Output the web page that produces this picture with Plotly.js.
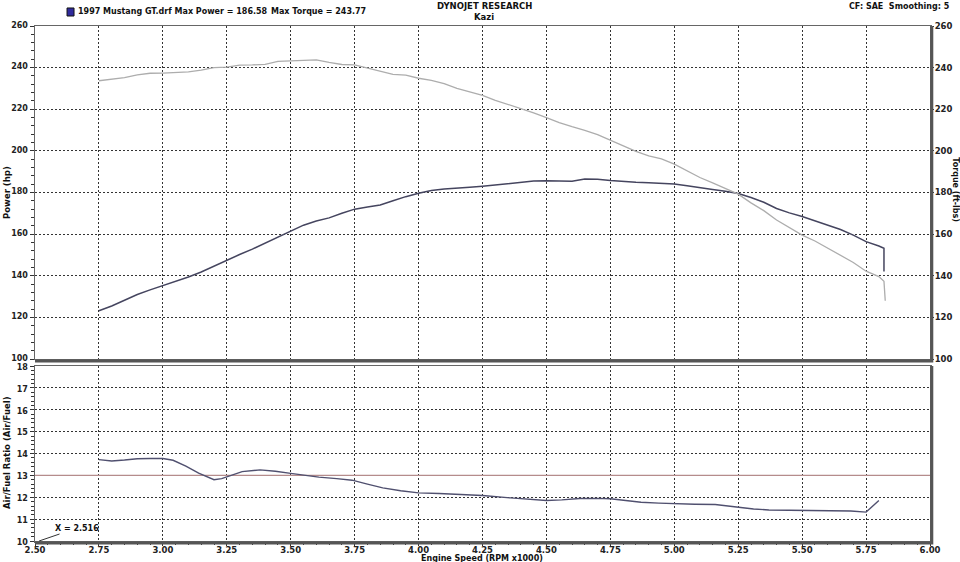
<!DOCTYPE html>
<html>
<head>
<meta charset="utf-8">
<script src="https://cdn.plot.ly/plotly-3.0.1.min.js"></script>
<style>
  html, body { margin: 0; padding: 0; background: #ffffff; }
  #chart { width: 960px; height: 562px; }
</style>
</head>
<body>
<div id="chart"></div>
<script>
// ---------------- DATA ----------------
const powerRpm = [2.75,2.80,2.85,2.90,2.95,3.00,3.05,3.10,3.15,3.20,3.25,3.30,3.35,3.40,3.45,3.50,3.55,3.60,3.65,3.70,3.75,3.80,3.85,3.90,3.95,4.00,4.05,4.10,4.15,4.20,4.25,4.30,4.35,4.40,4.45,4.50,4.55,4.60,4.65,4.70,4.75,4.80,4.85,4.90,4.95,5.00,5.05,5.10,5.15,5.20,5.25,5.30,5.35,5.40,5.45,5.50,5.55,5.60,5.65,5.70,5.75,5.80,5.82,5.82];
const powerHp = [123.2,125.5,128.2,131.0,133.2,135.2,137.3,139.4,141.8,144.7,147.6,150.2,152.8,155.7,158.8,161.6,164.3,166.3,167.8,170.0,172.0,173.0,174.0,176.0,178.0,179.6,181.0,181.7,182.0,182.5,183.0,183.6,184.1,184.8,185.5,185.6,185.5,185.4,186.5,186.4,185.8,185.3,184.9,184.7,184.5,184.1,183.2,182.2,181.4,180.6,179.5,177.6,175.3,172.3,170.2,168.5,166.4,164.4,162.2,159.5,156.4,154.3,153.2,142.0];

const torqueRpm = [2.75,2.80,2.85,2.90,2.95,3.00,3.05,3.10,3.15,3.20,3.25,3.30,3.35,3.40,3.45,3.50,3.55,3.60,3.65,3.70,3.75,3.80,3.85,3.90,3.95,4.00,4.05,4.10,4.15,4.20,4.25,4.30,4.35,4.40,4.45,4.50,4.55,4.60,4.65,4.70,4.75,4.80,4.85,4.90,4.95,5.00,5.05,5.10,5.15,5.20,5.25,5.30,5.35,5.40,5.45,5.50,5.55,5.60,5.65,5.70,5.75,5.80,5.82,5.825];
const torqueFtLbs = [233.7,234.3,235.2,236.5,237.3,237.4,237.6,238.0,238.8,240.0,240.2,241.2,241.3,241.6,243.0,243.3,243.6,243.77,242.5,241.5,241.3,239.8,238.0,236.8,236.4,234.9,233.9,232.3,230.0,228.3,226.7,224.3,222.3,220.4,218.3,216.0,213.6,211.6,209.9,207.8,205.2,202.5,199.8,197.6,196.2,193.6,190.4,187.2,184.6,181.9,179.2,175.0,171.3,166.8,163.0,159.5,156.7,153.4,150.0,146.4,142.2,139.6,137.3,128.0];

const afrRpm = [2.75,2.80,2.85,2.90,2.95,3.00,3.04,3.09,3.14,3.20,3.23,3.26,3.31,3.38,3.44,3.50,3.55,3.61,3.68,3.74,3.80,3.86,3.93,4.00,4.08,4.16,4.25,4.36,4.43,4.50,4.56,4.63,4.70,4.75,4.81,4.87,4.94,5.00,5.08,5.16,5.21,5.25,5.31,5.37,5.44,5.50,5.57,5.63,5.69,5.75,5.80];
const afrRatio = [13.72,13.66,13.70,13.76,13.77,13.77,13.69,13.42,13.10,12.80,12.85,12.97,13.17,13.25,13.19,13.09,13.00,12.92,12.85,12.78,12.60,12.43,12.30,12.20,12.17,12.14,12.08,11.97,11.90,11.85,11.88,11.94,11.95,11.93,11.85,11.77,11.73,11.70,11.68,11.67,11.60,11.52,11.46,11.42,11.41,11.41,11.42,11.40,11.37,11.32,11.85];

const afrTarget = 13.0;
const rpmRange = [2.5, 6.0];
const hpRange = [100, 260];
const afrRange = [10, 18];
const cursorX = 2.516;

const titleText = "1997 Mustang GT.drf Max Power = 186.58";
const torqueText = "Max Torque = 243.77";
const brandText = "DYNOJET RESEARCH";
const customerText = "Kazi";
const settingsText = "CF: SAE&nbsp;&nbsp;Smoothing: 5";

// ---------------- STYLE ----------------
const F = "DejaVu Sans, Verdana, sans-serif";
const tickFont = {family: F, size: 8.5, color: "#222", weight: "bold"};
const yTickFont = {family: F, size: 8, color: "#222", weight: "bold"};
const hdrFont = {family: F, size: 8, color: "#111", weight: "bold"};
const lblFont = {family: F, size: 8.5, color: "#111", weight: "bold"};
const gridStyle = {showgrid: true, gridcolor: "#333", griddash: "2px,2px", gridwidth: 1};
const frameLine = {showline: true, mirror: true, linecolor: "#666", linewidth: 1.5, zeroline: false};

const traces = [
  {x: torqueRpm, y: torqueFtLbs, xaxis: "x", yaxis: "y3", type: "scatter", mode: "lines",
   line: {color: "#adadad", width: 1.3}, hoverinfo: "skip"},
  {x: powerRpm, y: powerHp, xaxis: "x", yaxis: "y", type: "scatter", mode: "lines",
   line: {color: "#45455f", width: 1.5}, hoverinfo: "skip"},
  {x: rpmRange, y: [afrTarget, afrTarget], xaxis: "x2", yaxis: "y2", type: "scatter", mode: "lines",
   line: {color: "#b58c8c", width: 1.4}, hoverinfo: "skip"},
  {x: afrRpm, y: afrRatio, xaxis: "x2", yaxis: "y2", type: "scatter", mode: "lines",
   line: {color: "#50506f", width: 1.4}, hoverinfo: "skip"}
];

const topLo = 0.3534, botHi = 0.3398;

const layout = {
  width: 960, height: 562,
  paper_bgcolor: "#ffffff", plot_bgcolor: "#ffffff",
  showlegend: false,
  margin: {l: 35, r: 30, t: 26, b: 21, pad: 0},
  xaxis: Object.assign({domain: [0, 1], anchor: "y", range: rpmRange, dtick: 0.25, tick0: 2.5,
    showticklabels: false, ticks: ""}, gridStyle, frameLine),
  yaxis: Object.assign({domain: [topLo, 1], anchor: "x", range: hpRange, dtick: 20, tick0: 100,
    ticks: "outside", ticklen: 4, tickcolor: "#333", tickfont: yTickFont, ticklabelstandoff: 0,
    ticklabelshift: -1,
    minor: {dtick: 4, ticks: "outside", ticklen: 3, tickcolor: "#333", showgrid: false}}, gridStyle, frameLine),
  yaxis3: {overlaying: "y", side: "right", anchor: "x", range: hpRange, dtick: 20, tick0: 100,
    ticks: "outside", ticklen: 3, tickcolor: "#333", tickfont: tickFont, showgrid: false, zeroline: false,
    ticklabelstandoff: -1,
    minor: {dtick: 4, ticks: "outside", ticklen: 2, tickcolor: "#333", showgrid: false}},
  xaxis2: Object.assign({domain: [0, 1], anchor: "y2", range: rpmRange, dtick: 0.25, tick0: 2.5,
    tickformat: ".2f", ticks: "outside", ticklen: 3, tickcolor: "#333", tickfont: tickFont,
    ticklabelstandoff: -3,
    minor: {dtick: 0.05, ticks: "outside", ticklen: 2, tickcolor: "#333", showgrid: false}}, gridStyle, frameLine),
  yaxis2: Object.assign({domain: [0, botHi], anchor: "x2", range: afrRange, dtick: 1, tick0: 10,
    ticks: "outside", ticklen: 4, tickcolor: "#333", tickfont: yTickFont, ticklabelstandoff: 0,
    ticklabelshift: 1,
    minor: {dtick: 0.2, ticks: "outside", ticklen: 3, tickcolor: "#333", showgrid: false}}, gridStyle, frameLine),
  shapes: [
    {type: "path", xref: "paper", yref: "paper",
     path: "M 1.002,1 L 1.002," + (topLo - 0.004) + " L 0," + (topLo - 0.004),
     line: {color: "#555", width: 3}},
    {type: "path", xref: "paper", yref: "paper",
     path: "M 1.002," + botHi + " L 1.002,-0.004 L 0,-0.004",
     line: {color: "#555", width: 3}},
    {type: "rect", xref: "paper", yref: "paper", x0: 0.0358, x1: 0.0436, y0: 1.0194, y1: 1.035,
     fillcolor: "#2f2a9c", line: {color: "#111", width: 1}}
  ],
  annotations: [
    {xref: "paper", yref: "paper", x: 0.0458, y: 1.0272, xanchor: "left", yanchor: "middle", showarrow: false,
     text: titleText, font: hdrFont},
    {xref: "paper", yref: "paper", x: 0.2610, y: 1.0272, xanchor: "left", yanchor: "middle", showarrow: false,
     text: torqueText, font: hdrFont},
    {xref: "paper", yref: "paper", x: 0.5017, y: 1.0388, xanchor: "center", yanchor: "middle", showarrow: false,
     text: brandText, font: lblFont},
    {xref: "paper", yref: "paper", x: 0.5017, y: 1.0175, xanchor: "center", yanchor: "middle", showarrow: false,
     text: customerText, font: lblFont},
    {xref: "paper", yref: "paper", x: 1.0246, y: 1.0388, xanchor: "right", yanchor: "middle", showarrow: false,
     text: settingsText, font: hdrFont},
    {xref: "paper", yref: "paper", x: -0.0313, y: 0.6777, xanchor: "center", yanchor: "middle", showarrow: false,
     textangle: -90, text: "Power (hp)", font: lblFont},
    {xref: "paper", yref: "paper", x: -0.0313, y: 0.1728, xanchor: "center", yanchor: "middle", showarrow: false,
     textangle: -90, text: "Air/Fuel Ratio (Air/Fuel)", font: lblFont},
    {xref: "paper", yref: "paper", x: 1.0275, y: 0.6816, xanchor: "center", yanchor: "middle", showarrow: false,
     textangle: 90, text: "Torque (ft-lbs)", font: hdrFont},
    {xref: "paper", yref: "paper", x: 0.4994, y: -0.0335, xanchor: "center", yanchor: "middle", showarrow: false,
     text: "Engine Speed (RPM x1000)", font: hdrFont},
    {xref: "x2", yref: "y2", x: cursorX, y: afrRange[0], showarrow: true, arrowhead: 0, arrowwidth: 1,
     arrowcolor: "#333", ax: 38, ay: -13, text: "X = " + cursorX.toFixed(3), font: hdrFont}
  ]
};

Plotly.newPlot("chart", traces, layout, {displayModeBar: false, staticPlot: true});
</script>
</body>
</html>
